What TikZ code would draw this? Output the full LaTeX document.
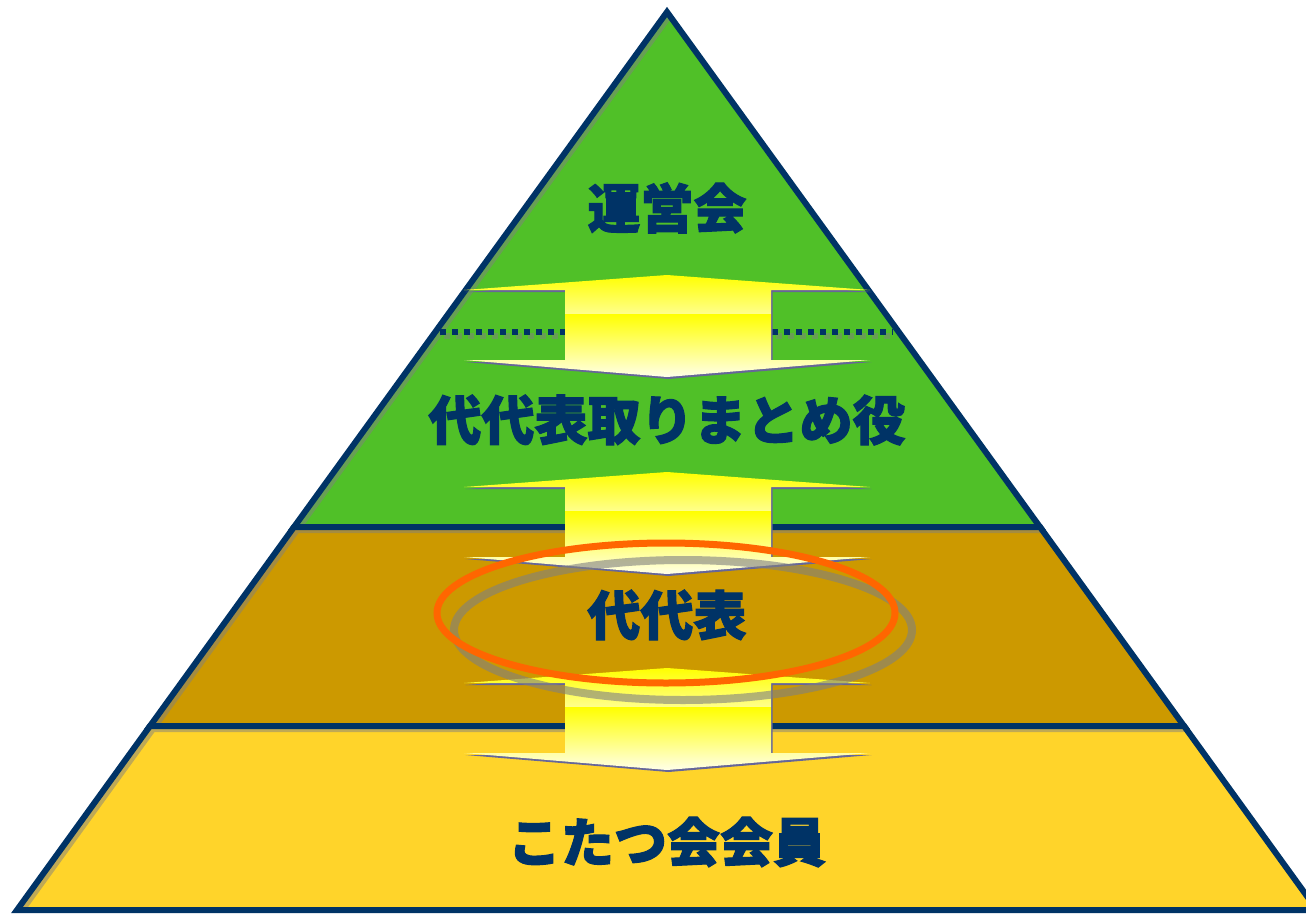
\documentclass[tikz,border=0pt]{standalone}
\usepackage{fontspec}
\newfontfamily\jpfont{Noto Sans CJK JP}[BoldFeatures={FakeBold=2}]
\definecolor{navy}{HTML}{003366}
\definecolor{leaf}{RGB}{80,192,40}
\definecolor{earth}{HTML}{CC9900}
\definecolor{sun}{RGB}{255,212,42}
\definecolor{ring}{HTML}{FF6600}
\definecolor{edge}{HTML}{666699}
\definecolor{paleyel}{RGB}{255,255,140}
\definecolor{cream}{RGB}{255,255,232}

% tiers of the pyramid
\def\tierG{(667,12) -- (1040,527) -- (294,527) -- cycle}
\def\tierB{(294,527) -- (1040,527) -- (1184,726) -- (150,726) -- cycle}
\def\tierY{(150,726) -- (1184,726) -- (1317,910) -- (17,910) -- cycle}

% up and down arrow, #1 = top tip
\newcommand\twoway[1]{%
\begin{scope}[shift={(0,#1)}]
  \begin{scope}[shift={(1.5,2)}]
    \fill[edge] (667,0) -- (870,15) -- (771,15) -- (771,85) -- (870,85) -- (667,102)
      -- (464,85) -- (565,85) -- (565,15) -- (464,15) -- cycle;
  \end{scope}
  \shade[top color=yellow,bottom color=paleyel] (667,0) -- (870,15) -- (771,15)
    -- (771,39) -- (565,39) -- (565,15) -- (464,15) -- cycle;
  \shade[top color=yellow,bottom color=cream] (565,39) -- (771,39) -- (771,85)
    -- (870,85) -- (667,102) -- (464,85) -- (565,85) -- cycle;
\end{scope}}

\begin{document}
\begin{tikzpicture}[x=1pt,y=-1pt,
  outline/.style={draw=navy,line width=6pt,line join=miter},
  inshadow/.style={draw=gray,opacity=.5,line width=6pt},
  dots/.style={navy,line width=6pt,dash pattern=on 6pt off 6pt},
  lbl/.style={text=navy,font=\jpfont\bfseries\fontsize{53}{60}\selectfont}]
\useasboundingbox (0,0) rectangle (1306,913);

\foreach \shape/\col in {\tierG/leaf,\tierB/earth,\tierY/sun}
{
	\fill[\col] \shape;
	\begin{scope}
		\clip \shape;
		\draw[inshadow,shift={(3,3)}] \shape;
	\end{scope}
	\draw[outline] \shape;
}

% dotted line in the top tier
\draw[dots,gray,opacity=.5] (444,336)--(565,336) (776,336)--(893,336);
\draw[dots] (440,332)--(565,332) (772,332)--(893,332);

\foreach \t in {275,472,668}
	\twoway{\t};

\node[lbl] (board) at (667,208) {運営会};
\node[lbl] (lead) at (667,420) {代代表取りまとめ役};
\node[lbl] (rep) at (667,615) {代代表};
\node[lbl] (member) at (667,842) {こたつ会会員};

\draw[line width=8pt,gray,opacity=.6] ([shift={(16,15)}]rep.center) ellipse [x radius=229,y radius=70];
\draw[line width=7pt,ring] ([shift={(-1,-2)}]rep.center) ellipse [x radius=229,y radius=70];

    \end{tikzpicture}
\end{document}
